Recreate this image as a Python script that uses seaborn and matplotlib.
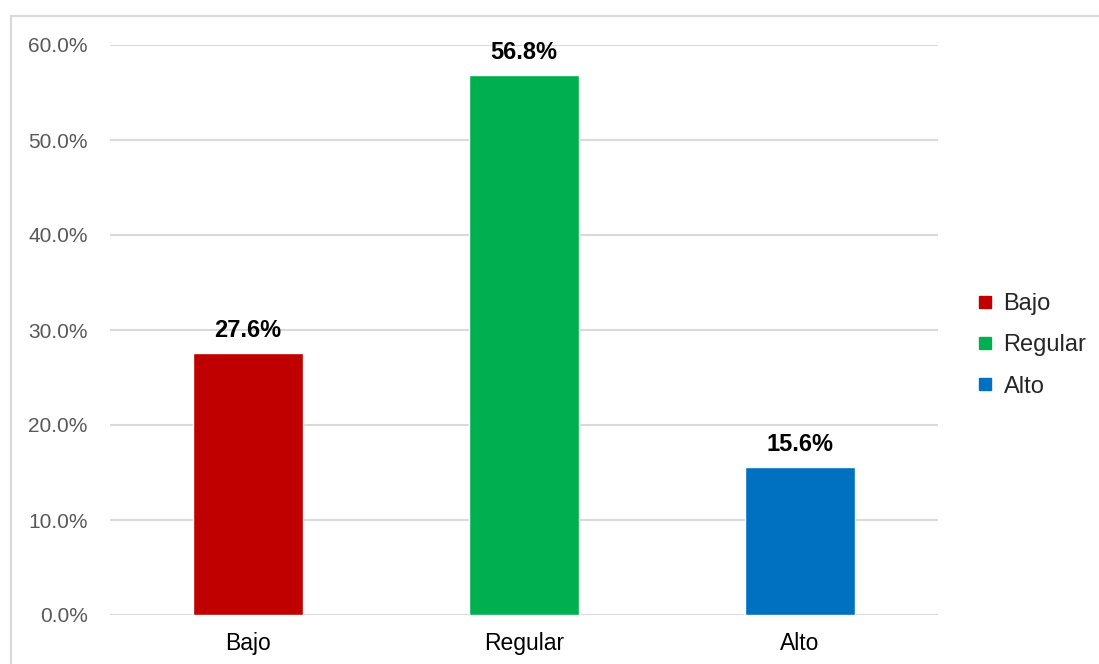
import matplotlib
matplotlib.use("Agg")
import matplotlib.pyplot as plt
import seaborn as sns
import pandas as pd
from matplotlib.lines import Line2D
from matplotlib.patches import Rectangle

categories = ["Bajo", "Regular", "Alto"]
values = [27.6, 56.8, 15.6]
colors = ["#C00000", "#00B050", "#0070C0"]
y_ticks = [0, 10, 20, 30, 40, 50, 60]
y_tick_labels = ["0.0%", "10.0%", "20.0%", "30.0%", "40.0%", "50.0%", "60.0%"]

sns.set_style("white")
plt.rcParams["font.family"] = ["Liberation Sans", "DejaVu Sans"]

df = pd.DataFrame({"cat": categories, "val": values})

fig = plt.figure(figsize=(10.99, 6.64), dpi=100)
ax = fig.add_axes([110/1099, 49/664, 828/1099, 570/664])

sns.barplot(data=df, x="cat", y="val", hue="cat", palette=colors,
            order=categories, hue_order=categories, width=0.4,
            legend=False, ax=ax, saturation=1)

ax.set_xlim(-0.5, 2.5)
ax.set_ylim(0, 60)
ax.set_yticks(y_ticks)
ax.set_yticklabels(y_tick_labels, fontsize=15, color="#595959")
ax.tick_params(axis="y", length=0, pad=16)
ax.tick_params(axis="x", length=0, pad=12, labelsize=16.5, labelcolor="black")
ax.set_xlabel("")
ax.set_ylabel("")
for s in ax.spines.values():
    s.set_visible(False)
ax.yaxis.grid(True, color="#d9d9d9", linewidth=1.5)
ax.set_axisbelow(True)

for i, v in enumerate(values):
    ax.annotate(f"{v:.1f}%", xy=(i, v), xytext=(0, 8), textcoords="offset points",
                ha="center", va="bottom", fontsize=17, fontweight="bold", color="black")

handles = [Line2D([0], [0], marker="s", linestyle="none", markersize=8,
                  markerfacecolor=c, markeredgecolor=c) for c in colors]
fig.legend(handles, categories, loc="center left", bbox_to_anchor=(954/1099, 0.48),
           frameon=False, fontsize=17, handletextpad=0.4, labelspacing=0.82,
           handlelength=0.8)

border = Rectangle((11/1099, -0.05), 1.2, (664-16)/664 + 0.05, transform=fig.transFigure,
                   fill=False, edgecolor="#d9d9d9", linewidth=1.5)
fig.patches.append(border)

fig.savefig("out.png", dpi=100)
